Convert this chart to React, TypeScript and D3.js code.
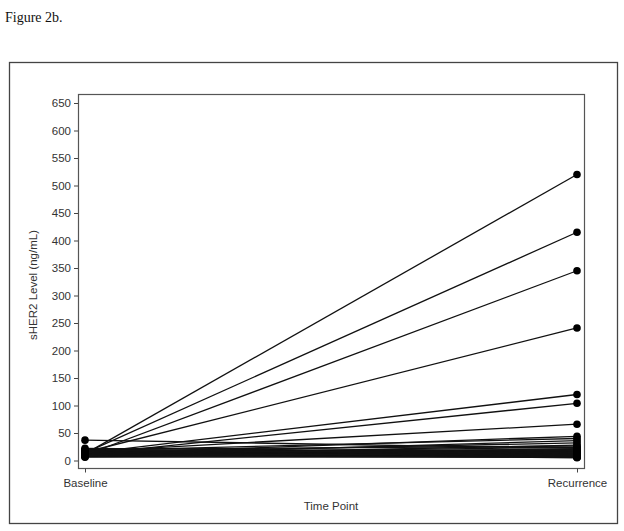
import React, { useEffect, useRef } from "react";
import * as d3 from "d3";

// time points
const timePoints = ["Baseline", "Recurrence"];

// sHER2 per patient (ng/mL), paired by index
const baselineValues = [
  12, 14, 10, 15, 13, 11, 37, 16, 12, 18, 10, 14, 9, 20, 13, 11, 15, 8, 12, 22,
  10, 14, 7, 16, 11, 13, 9, 12, 6, 15, 10, 13, 17, 11, 9, 14, 12, 19, 8, 13,
  10, 16, 11, 12, 15, 9,
];
const recurrenceValues = [
  520, 415, 345, 241, 120, 104, 22, 66, 44, 40, 36, 32, 28, 26, 24, 20, 18, 17, 16, 15,
  14, 13, 12, 11, 10, 9, 8, 7, 6, 12, 10, 5, 19, 14, 11, 8, 16, 13, 9, 21,
  7, 15, 12, 10, 18, 6,
];

const yTicks = d3.range(0, 651, 50);

const App = () => {
  const svgRef = useRef<SVGSVGElement>(null);

  useEffect(() => {
    const svg = d3.select(svgRef.current);
    svg.selectAll("*").remove();

    const box = { left: 78, right: 584, top: 94, bottom: 468 };

    const x = d3.scalePoint().domain(timePoints).range([85, 577]);
    const y = d3.scaleLinear().domain([0, 650]).range([460.5, 103]);

    // caption
    svg
      .append("text")
      .attr("x", 5)
      .attr("y", 22)
      .attr("font-family", "Liberation Serif, serif")
      .attr("font-size", 14)
      .attr("fill", "#111")
      .text("Figure 2b.");

    // outer frame
    svg
      .append("rect")
      .attr("x", 9.5)
      .attr("y", 62.5)
      .attr("width", 608)
      .attr("height", 461)
      .attr("fill", "none")
      .attr("stroke", "#444")
      .attr("stroke-width", 1.3);

    const lines = svg.append("g");
    baselineValues.forEach((b, i) => {
      lines
        .append("line")
        .attr("x1", x("Baseline")!)
        .attr("y1", y(b))
        .attr("x2", x("Recurrence")!)
        .attr("y2", y(recurrenceValues[i]))
        .attr("stroke", "#111")
        .attr("stroke-width", 1.3);
    });

    const dots = svg.append("g");
    baselineValues.forEach((b, i) => {
      dots.append("circle").attr("cx", x("Baseline")!).attr("cy", y(b)).attr("r", 3.8).attr("fill", "#000");
      dots
        .append("circle")
        .attr("cx", x("Recurrence")!)
        .attr("cy", y(recurrenceValues[i]))
        .attr("r", 3.8)
        .attr("fill", "#000");
    });

    // plot box
    svg
      .append("rect")
      .attr("x", box.left + 0.5)
      .attr("y", box.top + 0.5)
      .attr("width", box.right - box.left)
      .attr("height", box.bottom - box.top)
      .attr("fill", "none")
      .attr("stroke", "#555")
      .attr("stroke-width", 1.2);

    const font = "Liberation Sans, Arial, sans-serif";

    // y axis
    const yAxis = svg
      .append("g")
      .attr("transform", `translate(${box.left},0)`)
      .attr("color", "#333")
      .call(d3.axisLeft(y).tickValues(yTicks).tickSize(4).tickPadding(3));
    yAxis.select(".domain").remove();
    yAxis.selectAll("line").attr("stroke", "#444");
    yAxis.selectAll("text").attr("font-family", font).attr("font-size", 11.5).attr("fill", "#333");

    // x axis
    const xAxis = svg
      .append("g")
      .attr("transform", `translate(0,${box.bottom + 0.5})`)
      .attr("color", "#333")
      .call(d3.axisBottom(x).tickSize(4).tickPadding(6));
    xAxis.select(".domain").remove();
    xAxis.selectAll("line").attr("stroke", "#444");
    xAxis.selectAll("text").attr("font-family", font).attr("font-size", 11.5).attr("fill", "#333");

    // axis titles
    svg
      .append("text")
      .attr("transform", `translate(37,${(box.top + box.bottom) / 2 + 4}) rotate(-90)`)
      .attr("text-anchor", "middle")
      .attr("font-family", font)
      .attr("font-size", 11.5)
      .attr("fill", "#333")
      .text("sHER2 Level (ng/mL)");

    svg
      .append("text")
      .attr("x", 331)
      .attr("y", 510)
      .attr("text-anchor", "middle")
      .attr("font-family", font)
      .attr("font-size", 11.5)
      .attr("fill", "#333")
      .text("Time Point");
  }, []);

  return (
    <svg
      ref={svgRef}
      width={624}
      height={531}
      style={{ position: "absolute", left: 0, top: 0, background: "#fff" }}
    ></svg>
  );
};

export default App;
